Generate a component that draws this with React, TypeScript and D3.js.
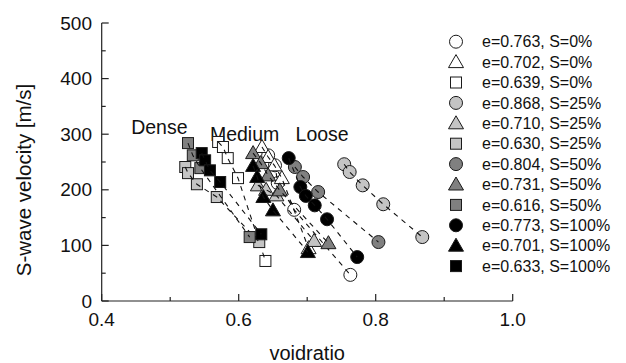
import React from "react";
import * as d3 from "d3";

// ---- data ----
const legendLabels = [
  "e=0.763, S=0%", "e=0.702, S=0%", "e=0.639, S=0%",
  "e=0.868, S=25%", "e=0.710, S=25%", "e=0.630, S=25%",
  "e=0.804, S=50%", "e=0.731, S=50%", "e=0.616, S=50%",
  "e=0.773, S=100%", "e=0.701, S=100%", "e=0.633, S=100%",
];
const shapes = ["circle", "triangle", "square", "circle", "triangle", "square", "circle", "triangle", "square", "circle", "triangle", "square"];
const fills = ["#ffffff", "#ffffff", "#ffffff", "#c4c4c4", "#c4c4c4", "#c4c4c4", "#808080", "#808080", "#808080", "#000000", "#000000", "#000000"];

const eC0 = [0.643, 0.653, 0.657, 0.681, 0.763];
const vC0 = [262, 244, 212, 164, 47];
const eT0 = [0.634, 0.643, 0.652, 0.663, 0.702];
const vT0 = [277, 259, 244, 221, 95];
const eS0 = [0.570, 0.577, 0.584, 0.599, 0.639];
const vS0 = [286, 277, 257, 221, 72];

const eC25 = [0.754, 0.762, 0.781, 0.811, 0.868];
const vC25 = [246, 232, 208, 174, 115];
const eT25 = [0.628, 0.640, 0.655, 0.710];
const vT25 = [208, 200, 190, 108];
const eS25 = [0.522, 0.526, 0.539, 0.568, 0.630];
const vS25 = [241, 230, 210, 187, 106];

const eC50 = [0.682, 0.694, 0.716, 0.804];
const vC50 = [241, 223, 196, 106];
const eT50 = [0.621, 0.632, 0.643, 0.660, 0.731];
const vT50 = [266, 248, 226, 199, 104];
const eS50 = [0.526, 0.533, 0.544, 0.616];
const vS50 = [284, 262, 239, 115];

const eC100 = [0.673, 0.690, 0.698, 0.711, 0.729, 0.773];
const vC100 = [257, 205, 189, 172, 147, 79];
const eT100 = [0.621, 0.627, 0.636, 0.650, 0.701];
const vT100 = [243, 223, 187, 163, 88];
const eS100 = [0.546, 0.551, 0.558, 0.573, 0.633];
const vS100 = [266, 253, 235, 214, 120];

const seriesE = [eC0, eT0, eS0, eC25, eT25, eS25, eC50, eT50, eS50, eC100, eT100, eS100];
const seriesV = [vC0, vT0, vS0, vC25, vT25, vS25, vC50, vT50, vS50, vC100, vT100, vS100];

const xTicks = [0.4, 0.6, 0.8, 1.0];
const xMinor = [0.5, 0.7, 0.9];
const yTicks = [0, 100, 200, 300, 400, 500];
const yMinor = [50, 150, 250, 350, 450];
const regionLabels = ["Dense", "Medium", "Loose"];
const regionE = [0.443, 0.558, 0.683];
const regionV = [312, 300, 300];

const W = 626, H = 363;
const FONT = "'Liberation Sans', Arial, sans-serif";

function Marker({ shape, x, y, fill }: { shape: string; x: number; y: number; fill: string }) {
  const st = { fill, stroke: "#1a1a1a", strokeWidth: 1 };
  if (shape === "circle") return <circle cx={x} cy={y} r={6.5} {...st} />;
  if (shape === "square") return <rect x={x - 5.5} y={y - 5.5} width={11} height={11} {...st} />;
  const p = d3.path();
  p.moveTo(x, y - 7.5);
  p.lineTo(x + 7.5, y + 5.5);
  p.lineTo(x - 7.5, y + 5.5);
  p.closePath();
  return <path d={p.toString()} {...st} />;
}

export default function App() {
  const x = d3.scaleLinear().domain([0.4, 1.0]).range([101.7, 512.7]);
  const y = d3.scaleLinear().domain([0, 500]).range([301, 23]);
  const line = d3.line<[number, number]>().x((d) => x(d[0])).y((d) => y(d[1]));

  return (
    <svg width={W} height={H} style={{ position: "absolute", left: 0, top: 0, background: "#fff" }} fontFamily={FONT}>
      {/* axes */}
      <line x1={x(0.4)} x2={x(1.0)} y1={y(0)} y2={y(0)} stroke="#222" strokeWidth={1.2} />
      <line x1={x(0.4)} x2={x(0.4)} y1={y(0)} y2={y(500)} stroke="#222" strokeWidth={1.2} />
      {xTicks.map((t) => (
        <g key={"xt" + t}>
          <line x1={x(t)} x2={x(t)} y1={y(0)} y2={y(0) - 7} stroke="#222" strokeWidth={1.2} />
          <text x={x(t)} y={y(0) + 25} fontSize={19} textAnchor="middle" fill="#111">{t.toFixed(1)}</text>
        </g>
      ))}
      {xMinor.map((t) => (
        <line key={"xm" + t} x1={x(t)} x2={x(t)} y1={y(0)} y2={y(0) - 4} stroke="#222" strokeWidth={1.2} />
      ))}
      {yTicks.map((t) => (
        <g key={"yt" + t}>
          <line x1={x(0.4)} x2={x(0.4) + 7} y1={y(t)} y2={y(t)} stroke="#222" strokeWidth={1.2} />
          <text x={92} y={y(t)} dy="0.35em" fontSize={19} textAnchor="end" fill="#111">{t}</text>
        </g>
      ))}
      {yMinor.map((t) => (
        <line key={"ym" + t} x1={x(0.4)} x2={x(0.4) + 4} y1={y(t)} y2={y(t)} stroke="#222" strokeWidth={1.2} />
      ))}
      <text transform={`translate(31,${(y(0) + y(500)) / 2 + 18}) rotate(-90)`} fontSize={20.5} textAnchor="middle" fill="#111">S-wave velocity [m/s]</text>
      <text x={(x(0.4) + x(1.0)) / 2} y={360} fontSize={20} textAnchor="middle" fill="#111">voidratio</text>

      {regionLabels.map((l, i) => (
        <text key={l} x={x(regionE[i])} y={y(regionV[i])} dy="0.35em" fontSize={19.5} fill="#111">{l}</text>
      ))}

      {/* series */}
      {seriesE.map((es, si) => {
        const pts: [number, number][] = es.map((e, k) => [e, seriesV[si][k]]);
        return (
          <g key={"s" + si}>
            {pts.map((p, k) => (
              <Marker key={k} shape={shapes[si]} x={x(p[0])} y={y(p[1])} fill={fills[si]} />
            ))}
            <path d={line(pts) || ""} fill="none" stroke="#111" strokeWidth={1.1} strokeDasharray="5,5" />
          </g>
        );
      })}

      {/* legend */}
      {legendLabels.map((l, i) => {
        const ly = 41.7 + i * 20.4;
        return (
          <g key={l}>
            <Marker shape={shapes[i]} x={456} y={ly} fill={fills[i]} />
            <text x={482} y={ly} dy="0.35em" fontSize={16} fill="#111">{l}</text>
          </g>
        );
      })}
    </svg>
  );
}
